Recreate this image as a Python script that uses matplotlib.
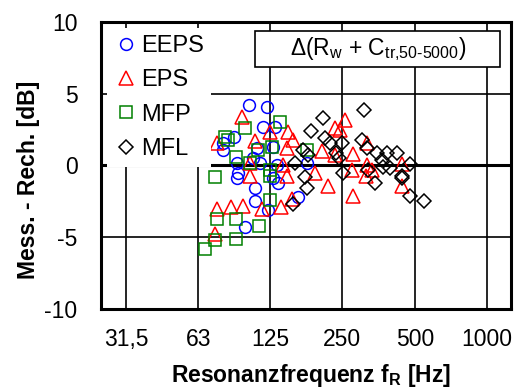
import numpy as np
import matplotlib
matplotlib.use("Agg")
import matplotlib.pyplot as plt
from matplotlib.patches import Rectangle

plt.rcParams['font.family'] = ['Liberation Sans', 'DejaVu Sans']
plt.rcParams['mathtext.fontset'] = 'custom'
plt.rcParams['mathtext.rm'] = 'Liberation Sans'
plt.rcParams['mathtext.it'] = 'Liberation Sans:italic'
plt.rcParams['mathtext.bf'] = 'Liberation Sans:bold'
plt.rcParams['axes.unicode_minus'] = False

# resonance frequency [Hz] and difference measured - calculated [dB]
eeps_f = [102, 122, 117, 131, 89, 80, 80, 110, 129, 91, 106, 114, 134, 92, 91,
          129, 108, 135, 108, 123, 164, 98, 178]
eeps_d = [4.2, 4.1, 2.7, 2.7, 2.0, 1.6, 1.1, 1.2, 1.3, 0.2, 0.5, 0.2, 0.0, -0.5, -0.9,
          -0.9, -1.6, -1.2, -2.5, -3.1, -2.2, -4.3, 0.2]

eps_f = [96, 75, 108, 125, 103, 103, 149, 156, 147, 142, 75, 86, 97, 116, 139, 155,
         74, 147, 257, 233, 245, 206, 233, 277, 317, 317, 274, 314, 193, 218, 277,
         443, 443, 332]
eps_d = [3.4, 1.6, 1.7, 2.3, 0.2, -0.7, 2.3, 1.8, 1.2, 0.0, -3.0, -2.9, -2.8, -3.0, -2.9, -2.3,
         -4.8, -0.7, 3.2, 2.6, 2.5, 1.0, 0.7, 0.8, 1.6, 0.0, -0.3, -0.7, -0.5, -1.4, -2.1,
         0.1, -1.4, -0.3]

mfp_f = [81, 84, 98, 138, 128, 112, 90, 103, 125, 125, 74, 125, 75, 90, 113, 90, 74, 67, 178]
mfp_d = [2.0, 1.8, 2.6, 3.0, 1.3, 1.1, 0.6, 0.2, -0.3, -0.7, -0.8, -2.4, -3.7, -3.7, -4.2,
         -5.1, -5.2, -5.8, 1.1]

mfl_f = [308, 208, 185, 212, 222, 249, 302, 317, 172, 180, 235, 242, 349, 384, 422, 366,
         369, 395, 478, 159, 175, 178, 252, 342, 443, 443, 478, 547, 156, 320]
mfl_d = [3.9, 3.3, 2.4, 1.9, 1.6, 1.6, 1.8, 1.2, 1.1, 0.7, 0.9, 0.5, 0.9, 0.9, 0.9, 0.4,
         -0.1, -0.2, 0.1, 0.2, -0.8, -1.6, -0.5, -1.2, -0.7, -0.9, -2.1, -2.5, -2.7, -0.3]

x_ticks = [31.5, 63, 125, 250, 500, 1000]
x_labels = ['31,5', '63', '125', '250', '500', '1000']
y_ticks = [-10, -5, 0, 5, 10]

fig = plt.figure(figsize=(5.22, 3.90), dpi=100)
ax = fig.add_axes([0.1935, 0.2077, 0.7855, 0.7359])
ax.set_xscale('log')
ax.set_xlim(24.8, 1257)
ax.set_ylim(-10, 10)

for f in x_ticks:
    ax.axvline(f, color='black', lw=1.2, zorder=1)
for y in [-5, 5]:
    ax.axhline(y, color='black', lw=1.2, zorder=1)
ax.axhline(0, color='black', lw=2.2, zorder=1)

ms = 8.5
mew = 1.1
ax.plot(eeps_f, eeps_d, 'o', ms=ms, mfc='none', mec='#0000FF', mew=mew, label='EEPS', zorder=3)
ax.plot(eps_f, eps_d, '^', ms=ms + 1, mfc='none', mec='#FF0000', mew=mew, label='EPS', zorder=3)
ax.plot(mfp_f, mfp_d, 's', ms=ms, mfc='none', mec='#008000', mew=mew, label='MFP', zorder=3)
ax.plot(mfl_f, mfl_d, 'D', ms=ms - 1, mfc='none', mec='black', mew=mew, label='MFL', zorder=3)

ax.set_xticks(x_ticks)
ax.set_xticklabels(x_labels)
ax.xaxis.set_minor_locator(matplotlib.ticker.NullLocator())
ax.set_yticks(y_ticks)
ax.tick_params(axis='both', length=0, labelsize=16.5)
ax.tick_params(axis='x', pad=14)
ax.tick_params(axis='y', pad=17)
for s in ax.spines.values():
    s.set_linewidth(2.2)

ax.set_xlabel(r'Resonanzfrequenz f$_\mathbf{R}$ [Hz]', fontsize=16.5, fontweight='bold')
ax.xaxis.set_label_coords(0.512, -0.185)
ax.set_ylabel('Mess. - Rech. [dB]', fontsize=16.5, fontweight='bold')
ax.yaxis.set_label_coords(-0.15, 0.449)

leg = ax.legend(loc='upper left', fontsize=17, frameon=True, fancybox=False,
                edgecolor='none', facecolor='white', framealpha=1,
                borderaxespad=0.25, handletextpad=0.15, labelspacing=0.52,
                handlelength=1.0, borderpad=0.3)
leg.set_zorder(5)

ax.add_patch(Rectangle((0.3756, 0.843), 0.598, 0.125, transform=ax.transAxes,
                       facecolor='white', edgecolor='black', lw=1.2, zorder=6))
ax.text(0.675, 0.905, r'Δ(R$_\mathrm{w}$ + C$_\mathrm{tr{,}50\text{-}5000}$)', transform=ax.transAxes,
        ha='center', va='center', fontsize=16.5, zorder=7)

fig.savefig('out.png', dpi=100)
